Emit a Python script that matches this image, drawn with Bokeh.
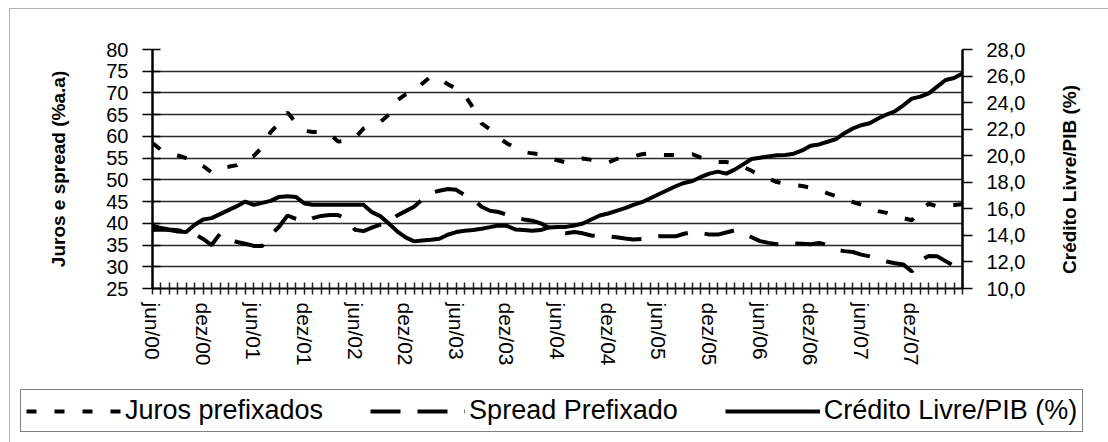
from math import pi

from bokeh.plotting import figure
from bokeh.models import (ColumnDataSource, Range1d, LinearAxis, FixedTicker,
                          CustomJSTickFormatter, Legend, LegendItem, Label,
                          BoxAnnotation)
from bokeh.embed import file_html
from bokeh.resources import INLINE

# monthly series, jun/2000 .. jun/2008
MESES = ["jan", "fev", "mar", "abr", "mai", "jun",
         "jul", "ago", "set", "out", "nov", "dez"]
months = [f"{MESES[(5 + i) % 12]}/{(2000 + (5 + i) // 12) % 100:02d}" for i in range(97)]

tick_labels = ["jun/00", "dez/00", "jun/01", "dez/01", "jun/02", "dez/02",
               "jun/03", "dez/03", "jun/04", "dez/04", "jun/05", "dez/05",
               "jun/06", "dez/06", "jun/07", "dez/07"]

# Juros prefixados (% a.a.) - left axis
juros = [58.5, 56.9, 56.2, 55.6, 55.0, 54.3, 53.2, 51.7, 52.8, 53.0,
         53.4, 55.0, 55.5, 57.5, 61.0, 63.0, 65.5, 63.2, 61.3, 61.0,
         61.0, 60.6, 58.8, 59.0, 59.6, 61.8, 62.7, 63.3, 65.0, 68.3,
         69.7, 70.2, 72.2, 73.8, 73.3, 72.0, 71.0, 69.5, 66.6, 63.0,
         61.6, 59.8, 58.4, 57.4, 56.4, 56.1, 55.9, 55.2, 54.5, 54.0,
         54.6, 54.9, 54.6, 54.2, 54.0, 54.8, 55.2, 55.4, 55.9, 56.1,
         55.8, 55.7, 55.7, 55.8, 55.9, 55.1, 54.5, 54.1, 54.1, 53.8,
         53.0, 52.1, 51.0, 50.3, 49.5, 49.1, 48.8, 48.6, 48.2, 47.8,
         46.9, 46.3, 45.5, 44.9, 44.3, 43.3, 42.8, 42.4, 41.8, 41.2,
         40.7, 43.0, 44.5, 43.9, 44.0, 44.2, 44.4]

# Spread prefixado (% a.a.) - left axis
spread = [39.5, 38.9, 38.6, 38.4, 38.1, 37.5, 36.4, 35.0, 37.6, 36.4,
          35.7, 35.3, 34.8, 34.8, 37.3, 39.2, 41.8, 41.0, 40.4, 41.2,
          41.7, 41.9, 41.9, 41.0, 38.5, 38.2, 39.0, 39.7, 40.1, 41.8,
          42.8, 43.8, 45.5, 47.0, 47.5, 47.9, 47.7, 46.5, 45.5, 43.8,
          42.9, 42.6, 42.0, 41.3, 40.9, 40.6, 40.0, 39.0, 37.8, 37.7,
          38.0, 37.7, 37.2, 37.0, 37.0, 36.8, 36.5, 36.3, 36.4, 36.7,
          37.0, 37.0, 37.0, 37.6, 38.0, 37.8, 37.4, 37.4, 37.9, 38.4,
          37.8, 36.8, 35.9, 35.5, 35.2, 35.3, 35.4, 35.3, 35.2, 35.5,
          35.0, 33.9, 33.6, 33.4, 32.8, 32.4, 31.8, 31.2, 30.8, 30.5,
          28.9, 31.5, 32.5, 32.4, 31.3, 30.2, 30.0]

# Credito livre / PIB (%) - right axis
credito = [14.4, 14.45, 14.4, 14.3, 14.25, 14.8, 15.2, 15.3, 15.6, 15.9,
           16.2, 16.55, 16.3, 16.45, 16.6, 16.9, 16.95, 16.9, 16.4, 16.3,
           16.3, 16.3, 16.3, 16.3, 16.3, 16.3, 15.75, 15.45, 14.9, 14.3,
           13.85, 13.55, 13.62, 13.68, 13.75, 14.05, 14.25, 14.35, 14.4, 14.5,
           14.62, 14.75, 14.72, 14.45, 14.4, 14.35, 14.4, 14.6, 14.64, 14.64,
           14.75, 14.9, 15.2, 15.5, 15.65, 15.85, 16.05, 16.3, 16.5, 16.8,
           17.1, 17.4, 17.7, 17.95, 18.1, 18.4, 18.65, 18.8, 18.65, 18.95,
           19.35, 19.75, 19.85, 19.95, 20.04, 20.06, 20.15, 20.4, 20.75, 20.85,
           21.05, 21.25, 21.7, 22.05, 22.3, 22.45, 22.8, 23.1, 23.35, 23.8,
           24.3, 24.45, 24.7, 25.2, 25.7, 25.85, 26.2]

left_ticks = [25, 30, 35, 40, 45, 50, 55, 60, 65, 70, 75, 80]
right_ticks = [10, 12, 14, 16, 18, 20, 22, 24, 26, 28]

FONT = "Liberation Sans"
W, H = 1108, 442
JUROS_STYLE = dict(line_color="black", line_width=4, line_dash="10 18")
SPREAD_STYLE = dict(line_color="black", line_width=4, line_dash="30 17")
CRED_STYLE = dict(line_color="black", line_width=4)

src = ColumnDataSource(dict(x=list(range(len(months))), month=months,
                            juros=juros, spread=spread, credito=credito))

# ---- chart ------------------------------------------------------------------
p = figure(width=W, height=H, output_backend="svg", toolbar_location=None,
           x_range=Range1d(0, len(months) - 1), y_range=Range1d(25, 80),
           min_border_left=152, min_border_right=146,
           min_border_top=49, min_border_bottom=154)
p.background_fill_color = "white"
p.border_fill_color = "white"
p.outline_line_color = None
p.extra_y_ranges = {"right": Range1d(10, 28)}

# category axis: one tick per month, labels every six months
xaxis = p.xaxis[0]
xaxis.ticker = FixedTicker(ticks=list(range(len(months))), minor_ticks=[])
overrides = {i: "" for i in range(len(months))}
for lab in tick_labels:
    overrides[months.index(lab)] = lab
xaxis.major_label_overrides = overrides
xaxis.major_label_orientation = "vertical"
xaxis.major_label_text_font = FONT
xaxis.major_label_text_font_size = "21px"
xaxis.major_label_text_color = "black"
xaxis.major_label_standoff = 8
xaxis.major_tick_in = 6
xaxis.major_tick_out = 6
xaxis.major_tick_line_width = 1.5
xaxis.major_tick_line_color = "#222222"
xaxis.axis_line_width = 2
xaxis.axis_line_color = "black"

# left axis
yaxis = p.yaxis[0]
yaxis.ticker = FixedTicker(ticks=left_ticks, minor_ticks=[])
yaxis.major_label_text_font = FONT
yaxis.major_label_text_font_size = "20px"
yaxis.major_label_text_color = "black"
yaxis.major_label_standoff = 14
yaxis.major_tick_in = 8
yaxis.major_tick_out = 10
yaxis.major_tick_line_width = 1.5
yaxis.axis_line_width = 2.5
yaxis.axis_line_color = "black"
yaxis.axis_label = "Juros e spread (%a.a)"
yaxis.axis_label_text_font = FONT
yaxis.axis_label_text_font_style = "bold"
yaxis.axis_label_text_font_size = "19px"
yaxis.axis_label_text_color = "black"
yaxis.axis_label_standoff = 34

# right axis
raxis = LinearAxis(y_range_name="right",
                   ticker=FixedTicker(ticks=right_ticks, minor_ticks=[]),
                   formatter=CustomJSTickFormatter(
                       code="return tick.toFixed(1).replace('.', ',');"))
raxis.major_label_text_font = FONT
raxis.major_label_text_font_size = "20px"
raxis.major_label_text_color = "black"
raxis.major_label_standoff = 14
raxis.major_tick_in = 0
raxis.major_tick_out = 10
raxis.major_tick_line_width = 1.5
raxis.axis_line_width = 2.5
raxis.axis_line_color = "black"
p.add_layout(raxis, "right")

p.xgrid.visible = False
p.ygrid.ticker = FixedTicker(ticks=left_ticks)
p.ygrid.grid_line_color = "#2a2a2a"
p.ygrid.grid_line_width = 1.5

r_juros = p.line("x", "juros", source=src, **JUROS_STYLE)
r_spread = p.line("x", "spread", source=src, **SPREAD_STYLE)
r_cred = p.line("x", "credito", source=src, y_range_name="right", **CRED_STYLE)

# ---- transparent page layer: frame, right-hand title and legend ---------------
deco = figure(width=W, height=H, output_backend="svg", toolbar_location=None,
              title=None, x_axis_location=None, y_axis_location=None,
              x_range=Range1d(0, W), y_range=Range1d(0, H),
              min_border=0, min_border_left=0, min_border_right=0,
              min_border_top=0, min_border_bottom=0,
              styles={"position": "absolute", "left": "0px", "top": "0px"})
deco.grid.visible = False
deco.outline_line_color = None
deco.background_fill_color = None
deco.border_fill_color = None

# outer chart border (right and bottom edges fall outside the page)
deco.add_layout(BoxAnnotation(left=9, right=W + 40, top=H - 8, bottom=-40,
                              fill_color=None, line_color="black",
                              line_width=1))

deco.add_layout(Label(x=1069, y=H - 179, text="Crédito Livre/PIB (%)",
                      angle=pi / 2, text_align="center",
                      text_baseline="middle", text_font=FONT,
                      text_font_style="bold", text_font_size="19px",
                      text_color="black"))

# legend keys: styled line renderers holding no visible points
nothing = ColumnDataSource(dict(x=[float("nan")], y=[float("nan")]))
l_juros = deco.line("x", "y", source=nothing, **JUROS_STYLE)
l_spread = deco.line("x", "y", source=nothing, **SPREAD_STYLE)
l_cred = deco.line("x", "y", source=nothing, **CRED_STYLE)

legend = Legend(items=[LegendItem(label="Juros prefixados", renderers=[l_juros]),
                       LegendItem(label="Spread Prefixado", renderers=[l_spread]),
                       LegendItem(label="Crédito Livre/PIB (%)", renderers=[l_cred])],
                orientation="horizontal", location=(20, 10),
                label_text_font=FONT, label_text_font_size="27px",
                label_text_color="black",
                glyph_width=95, glyph_height=20, label_standoff=4,
                spacing=47, padding=5, margin=0,
                border_line_color="black", border_line_width=1,
                background_fill_color="white", background_fill_alpha=1)
deco.add_layout(legend)

open("out.html", "w").write(file_html([p, deco], INLINE))
